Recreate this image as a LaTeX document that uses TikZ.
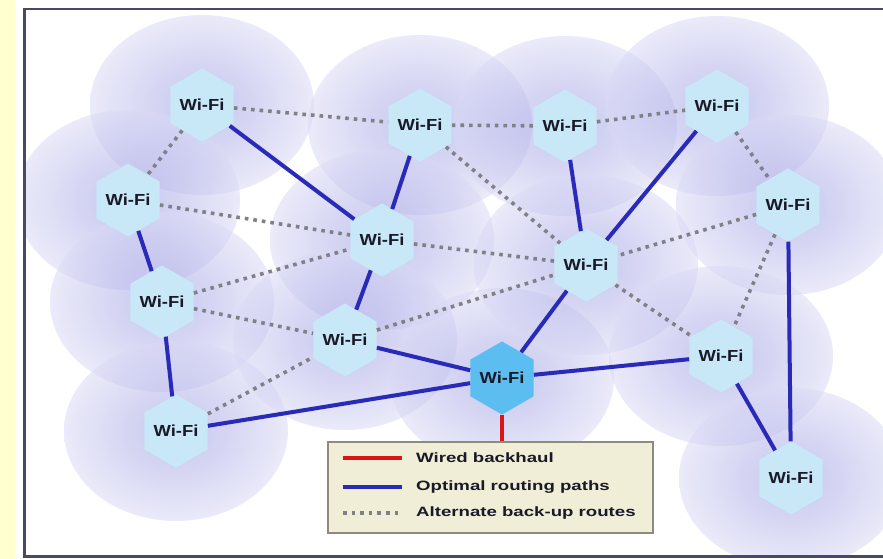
\documentclass[tikz,border=0pt]{standalone}
\usepackage{fontspec}
\setmainfont{Liberation Sans}
\newfontfamily\wf[FakeStretch=1.15]{Liberation Sans}
\newfontfamily\lf[FakeStretch=1.38]{Liberation Sans}
\usetikzlibrary{shapes.geometric}
\definecolor{ystrip}{RGB}{255,255,208}
\definecolor{framec}{RGB}{72,72,104}
\definecolor{discin}{RGB}{150,150,225}
\definecolor{discout}{RGB}{218,218,246}
\definecolor{hexc}{RGB}{200,232,248}
\definecolor{hubc}{RGB}{92,190,240}
\definecolor{routec}{RGB}{42,42,184}
\definecolor{altc}{RGB}{128,128,136}
\definecolor{wirec}{RGB}{220,20,20}
\definecolor{legc}{RGB}{240,238,214}
\definecolor{legb}{RGB}{140,140,125}
\definecolor{txtc}{RGB}{25,25,40}
\tikzset{
  hexnode/.style={regular polygon, regular polygon sides=6, shape border rotate=30,
    minimum size=58pt, inner sep=0pt, fill=hexc, text=txtc, font=\wf\bfseries\fontsize{16}{16}\selectfont},
  hubnode/.style={hexnode, fill=hubc},
  disc/.style={inner color=discin, outer color=discout, opacity=0.55},
  optimal/.style={draw=routec, line width=4pt},
  alternate/.style={draw=altc, line width=3.6pt, dash pattern=on 3.6pt off 5pt},
  wired/.style={draw=wirec, line width=4pt},
  legtext/.style={anchor=west, inner sep=0pt, text=txtc, font=\lf\bfseries\fontsize{13.5}{13.5}\selectfont}
}
\begin{document}
\begin{tikzpicture}[x=1pt,y=-1pt]
\useasboundingbox (0,0) rectangle (883,559);
\fill[white] (0,0) rectangle (883,559);
\fill[ystrip] (0,0) rectangle (15,559);

% node positions
\coordinate (pA) at (202,105);
\coordinate (pB) at (128,200);
\coordinate (pC) at (162,302);
\coordinate (pD) at (176,431);
\coordinate (pE) at (420,125);
\coordinate (pF) at (382,240);
\coordinate (pG) at (345,340);
\coordinate (pH) at (502,378);
\coordinate (pI) at (565,126);
\coordinate (pJ) at (586,265);
\coordinate (pK) at (717,106);
\coordinate (pL) at (788,205);
\coordinate (pM) at (721,356);
\coordinate (pN) at (791,478);

% coverage discs
\begin{scope}
\clip (25,10) rectangle (883,556);
\foreach \p in {pA,pB,pC,pD,pE,pF,pG,pH,pI,pJ,pK,pL,pM,pN}{
  \shade[disc] (\p) ellipse [x radius=112, y radius=90];
}
\end{scope}

% frame
\draw[framec, line width=2.2pt] (900,9) -- (24.5,9) -- (24.5,556.5) -- (900,556.5);

% access points
\node[hexnode] (A) at (pA) {Wi-Fi};
\node[hexnode] (B) at (pB) {Wi-Fi};
\node[hexnode] (C) at (pC) {Wi-Fi};
\node[hexnode] (D) at (pD) {Wi-Fi};
\node[hexnode] (E) at (pE) {Wi-Fi};
\node[hexnode] (F) at (pF) {Wi-Fi};
\node[hexnode] (G) at (pG) {Wi-Fi};
\node[hubnode] (H) at (pH) {Wi-Fi};
\node[hexnode] (I) at (pI) {Wi-Fi};
\node[hexnode] (J) at (pJ) {Wi-Fi};
\node[hexnode] (K) at (pK) {Wi-Fi};
\node[hexnode] (L) at (pL) {Wi-Fi};
\node[hexnode] (M) at (pM) {Wi-Fi};
\node[hexnode] (N) at (pN) {Wi-Fi};

% alternate back-up routes
\foreach \a/\b in {A/E,E/I,I/K,A/B,B/F,F/J,C/F,C/G,D/G,G/J,E/J,K/L,L/J,L/M,J/M}{
  \draw[alternate] (\a) -- (\b);
}
% optimal routing paths
\foreach \a/\b in {A/F,E/F,F/G,B/C,C/D,D/H,G/H,H/J,J/I,J/K,H/M,M/N,L/N}{
  \draw[optimal] (\a) -- (\b);
}

% legend
\node[draw=legb, line width=1.5pt, fill=legc, minimum width=325pt, minimum height=91pt, inner sep=0pt] (leg) at (490.5,487.5) {};
\draw[wired] (H.south) -- (H.south |- leg.north);

\coordinate (r1) at (343,458);
\coordinate (r2) at (402,458);
\coordinate (b1) at (343,487);
\coordinate (b2) at (402,487);
\coordinate (d1) at (343,513);
\coordinate (d2) at (402,513);
\draw[wired] (r1) -- (r2);
\draw[optimal] (b1) -- (b2);
\draw[alternate] (d1) -- (d2);
\node[legtext] (t1) at (416,458) {Wired backhaul};
\node[legtext] (t2) at (416,487) {Optimal routing paths};
\node[legtext] (t3) at (416,513) {Alternate back-up routes};
\end{tikzpicture}
\end{document}
